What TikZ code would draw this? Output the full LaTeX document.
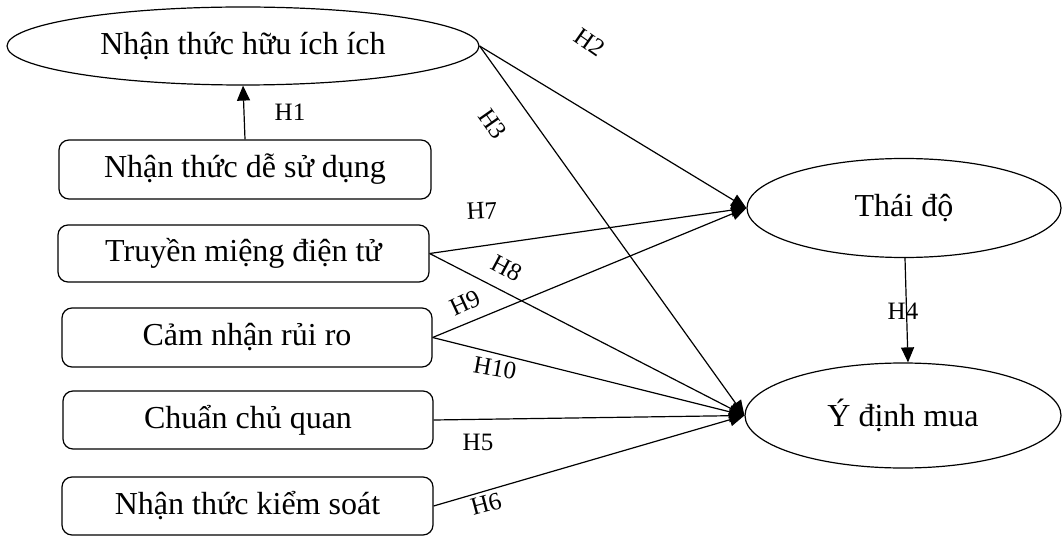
\documentclass[tikz,border=0pt]{standalone}
\usepackage{fontspec}
\setmainfont{Liberation Serif}
\usetikzlibrary{shapes.geometric,arrows.meta}
\begin{document}
\begin{tikzpicture}[x=1pt,y=-1pt,
  boxnode/.style={draw,rounded corners=10pt,line width=1.2pt,inner sep=0pt,font=\fontsize{32}{36}\selectfont},
  ellnode/.style={draw,ellipse,line width=1.2pt,inner sep=0pt,font=\fontsize{32}{36}\selectfont},
  conn/.style={line width=1.2pt,-{Triangle[length=15pt,width=13pt]}},
  hlabel/.style={inner sep=0pt,font=\fontsize{25}{30}\selectfont}]
\useasboundingbox (0,0) rectangle (1062,537);
% nodes
\node[ellnode,minimum width=472pt,minimum height=78pt] (puse) at (243,46) {Nhận thức hữu ích ích};
\node[boxnode,minimum width=372pt,minimum height=59pt] (peou) at (245,169.5) {Nhận thức dễ sử dụng};
\node[boxnode,minimum width=371pt,minimum height=57pt] (ewom) at (243.5,253.5) {Truyền miệng điện tử};
\node[boxnode,minimum width=370pt,minimum height=59pt] (risk) at (247,337.5) {Cảm nhận rủi ro};
\node[boxnode,minimum width=370pt,minimum height=58pt] (sn) at (248,420) {Chuẩn chủ quan};
\node[boxnode,minimum width=371pt,minimum height=58pt] (pbc) at (247.5,506) {Nhận thức kiểm soát};
\node[ellnode,minimum width=314pt,minimum height=99pt] (att) at (904,208) {Thái độ};
\node[ellnode,minimum width=316pt,minimum height=105pt] (pi) at (903,415.5) {Ý định mua};
% connectors
\draw[conn] (peou.north) -- (puse.south);
\draw[conn] (puse.east) -- (att.west);
\draw[conn] (puse.east) -- (pi.west);
\draw[conn] (ewom.east) -- (att.west);
\draw[conn] (ewom.east) -- (pi.west);
\draw[conn] (risk.east) -- (att.west);
\draw[conn] (risk.east) -- (pi.west);
\draw[conn] (sn.east) -- (pi.west);
\draw[conn] (pbc.east) -- (pi.west);
\draw[conn] ([xshift=1pt]att.south) -- ([xshift=5pt]pi.north);
% labels
\node[hlabel] (l1) at (290,112) {H1};
\node[hlabel,rotate=-35] (l2) at (590,42) {H2};
\node[hlabel,rotate=-55] (l3) at (493,124) {H3};
\node[hlabel] (l4) at (903,311) {H4};
\node[hlabel] (l5) at (478,442) {H5};
\node[hlabel,rotate=15] (l6) at (486,504) {H6};
\node[hlabel,rotate=3] (l7) at (482,211) {H7};
\node[hlabel,rotate=-28] (l8) at (507,268) {H8};
\node[hlabel,rotate=25] (l9) at (465,303) {H9};
\node[hlabel,rotate=-10] (l10) at (495,368) {H10};
\end{tikzpicture}
\end{document}
